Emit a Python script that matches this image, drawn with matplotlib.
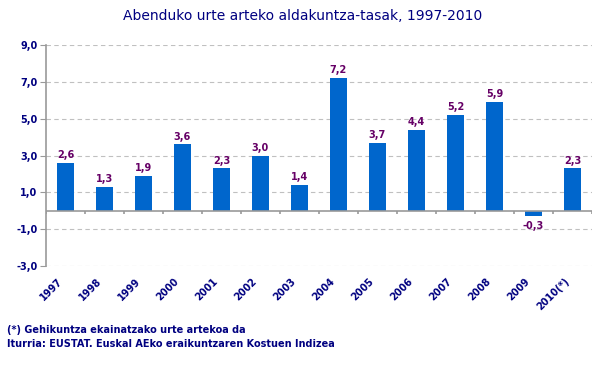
import numpy as np
import matplotlib
matplotlib.use("Agg")
import matplotlib.pyplot as plt
import matplotlib.transforms as mtransforms

years = ["1997", "1998", "1999", "2000", "2001", "2002", "2003", "2004",
         "2005", "2006", "2007", "2008", "2009", "2010(*)"]
rates = [2.6, 1.3, 1.9, 3.6, 2.3, 3.0, 1.4, 7.2, 3.7, 4.4, 5.2, 5.9, -0.3, 2.3]
yticks = [-3, -1, 1, 3, 5, 7, 9]

navy = "#000080"
purple = "#660066"
barcol = "#0066CC"

fig = plt.figure(figsize=(6.05, 3.70), dpi=100)
ax = fig.add_axes([0.076, 0.281, 0.9025, 0.5974])

x = np.arange(len(years))
ax.bar(x, rates, width=0.42, color=barcol, zorder=3)

for xi, v in zip(x, rates):
    lab = ("%.1f" % v).replace(".", ",")
    if v >= 0:
        ax.text(xi, v + 0.15, lab, ha="center", va="bottom", color=purple,
                fontsize=7, fontweight="bold")
    else:
        ax.text(xi, v - 0.25, lab, ha="center", va="top", color=purple,
                fontsize=7, fontweight="bold")

ax.set_xlim(-0.5, len(years) - 0.5)
ax.set_ylim(-3, 9)
ax.set_yticks(yticks)
ax.set_yticklabels([("%.1f" % t).replace(".", ",") for t in yticks],
                   color=navy, fontsize=7, fontweight="bold")
ax.yaxis.grid(True, color="#c0c0c0", linestyle=(0, (4, 3)), linewidth=0.8)
ax.tick_params(axis="y", length=4, color="#999999", pad=2)

ax.axhline(0, color="#999999", linewidth=1.2, zorder=4)
ax.vlines(np.arange(len(years) + 1) - 0.5, -0.2, 0, color="#999999",
          linewidth=1.2, zorder=4)

ax.set_xticks(x)
ax.set_xticklabels(years, rotation=45, ha="right", va="top",
                   rotation_mode="anchor", color=navy, fontsize=7,
                   fontweight="bold")
ax.tick_params(axis="x", length=0, pad=7)
shift = mtransforms.ScaledTranslation(-6 / 72, 0, fig.dpi_scale_trans)
for lbl in ax.get_xticklabels():
    lbl.set_transform(lbl.get_transform() + shift)

for s in ["top", "right", "bottom"]:
    ax.spines[s].set_visible(False)
ax.spines["left"].set_color("#999999")
ax.spines["left"].set_linewidth(1.2)

fig.text(0.5, 0.958, "Abenduko urte arteko aldakuntza-tasak, 1997-2010",
         ha="center", va="center", color=navy, fontsize=10)
fig.text(0.012, 0.108, "(*) Gehikuntza ekainatzako urte artekoa da",
         ha="left", va="center", color=navy, fontsize=7, fontweight="bold")
fig.text(0.012, 0.07, "Iturria: EUSTAT. Euskal AEko eraikuntzaren Kostuen Indizea",
         ha="left", va="center", color=navy, fontsize=7, fontweight="bold")

fig.savefig("out.png", dpi=100)
